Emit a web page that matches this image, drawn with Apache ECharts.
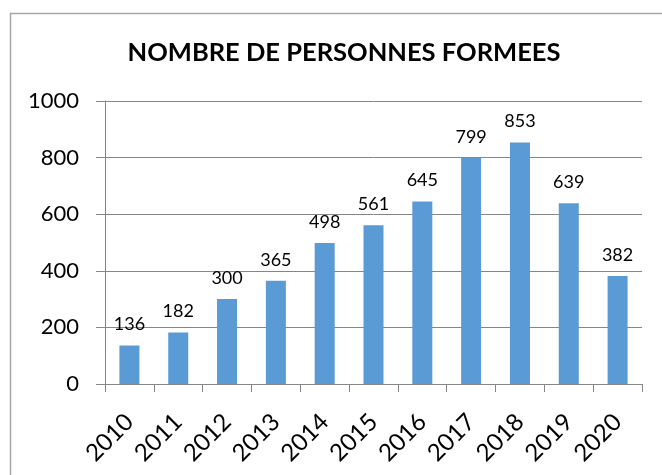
<!DOCTYPE html>
<html>
<head>
<meta charset="utf-8">
<script src="https://cdn.jsdelivr.net/npm/echarts@6/dist/echarts.min.js"></script>
<style>html,body{margin:0;padding:0;background:#fff}#c{width:662px;height:475px}</style>
</head>
<body>
<div id="c"></div>
<script>
const titleText = 'NOMBRE DE PERSONNES FORMEES';
const years = ['2010','2011','2012','2013','2014','2015','2016','2017','2018','2019','2020'];
const persons = [136, 182, 300, 365, 498, 561, 645, 799, 853, 639, 382];
const yTicks = [0, 200, 400, 600, 800, 1000];

const chart = echarts.init(document.getElementById('c'), null, {renderer: 'canvas'});
const gray = '#868686';
chart.setOption({
  animation: false,
  backgroundColor: '#fff',
  graphic: [{
    type: 'rect', left: 8, top: 11, silent: true,
    shape: {width: 700, height: 500},
    style: {fill: 'none', stroke: '#a6a6a6', lineWidth: 1.5}
  }],
  title: {
    text: titleText, left: 339, top: 35, textAlign: 'center',
    textStyle: {fontFamily: 'Lato', fontWeight: 'bold', fontSize: 25.5, color: '#000'}
  },
  grid: {left: 105, right: 20, top: 101, bottom: 91, containLabel: false},
  xAxis: {
    type: 'category', data: years,
    axisLine: {lineStyle: {color: gray, width: 1}},
    axisTick: {show: true, length: 8, lineStyle: {color: gray}},
    axisLabel: {rotate: 45, margin: 34, fontFamily: 'Lato', fontSize: 24, color: '#000', interval: 0}
  },
  yAxis: {
    type: 'value', min: yTicks[0], max: yTicks[yTicks.length - 1], interval: 200,
    axisLine: {show: true, lineStyle: {color: gray, width: 1}},
    axisTick: {show: true, length: 9, lineStyle: {color: gray}},
    splitLine: {lineStyle: {color: gray, width: 1}},
    axisLabel: {margin: 26, fontFamily: 'Lato', fontSize: 22, color: '#000', formatter: v => String(v)}
  },
  series: [{
    type: 'bar', data: persons, barWidth: '41%',
    itemStyle: {color: '#5B9BD5'},
    label: {show: true, position: 'top', distance: 12, fontFamily: 'Lato', fontSize: 18, color: '#000'}
  }]
});
</script>
</body>
</html>
